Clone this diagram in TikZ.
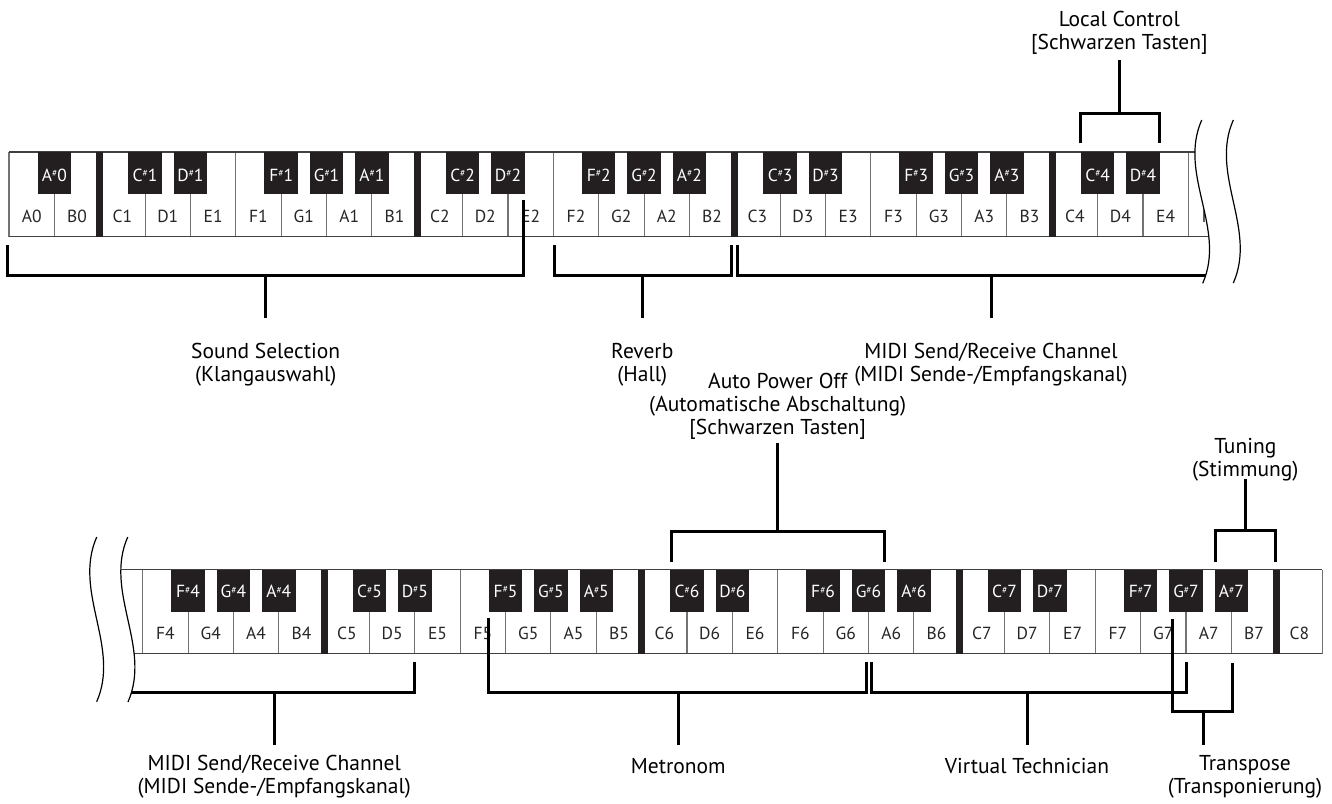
\documentclass[tikz,border=0pt]{standalone}
\usepackage{fontspec}
\setmainfont{PT Sans}
\definecolor{keyblack}{HTML}{231F20}
\newcommand\shp{\raisebox{0.55ex}{\fontsize{9.5}{9.5}\selectfont\#}}
\newcommand\keyfont{\fontsize{17.5}{18}\selectfont}
\newcommand\lblfont{\fontsize{21.5}{23}\selectfont}
\begin{document}
\begin{tikzpicture}[x=1pt,y=-1pt,
  wline/.style={draw=black!55,line width=1.1pt},
  kedge/.style={draw=black!75,line width=1.3pt},
  br/.style={draw=black,line width=3pt,line join=miter},
  wavy/.style={draw=black,line width=1.2pt},
  wlab/.style={font=\keyfont,text=black!85,inner sep=0pt},
  blab/.style={font=\keyfont,text=white,inner sep=0pt},
  lbl/.style={font=\lblfont,align=center,inner sep=0pt,text=black}]
\useasboundingbox (0,0) rectangle (1332,803);

% ---------------- top keyboard ----------------
\begin{scope}
\clip (-5,100) -- (1201.7,100) -- (1201.7,120) .. controls (1177.7,174.4) and (1226.7,228.8) .. (1202.7,283.3) -- (1202.7,300) -- (-5,300) -- cycle;
\fill[white] (9,152) rectangle (1250,236.7);
\draw[wline] (9,152) -- (9,236.7);
\foreach \i in {1,...,27} \draw[wline] ({9+\i*45.36},152) -- ({9+\i*45.36},236.7);
\draw[kedge] (9,152) -- (1250,152);
\draw[kedge] (9,236.7) -- (1250,236.7);
\foreach \b in {2,9,16,23}
  \fill[keyblack] ({9+\b*45.36-3.5},152) rectangle ({9+\b*45.36+3.5},236.7);
\foreach \n [count=\i from 0] in {A0,B0,C1,D1,E1,F1,G1,A1,B1,C2,D2,E2,F2,G2,A2,B2,C3,D3,E3,F3,G3,A3,B3,C4,D4,E4,F4}
  \node[wlab] (tw\i) at ({9+(\i+0.5)*45.36},216) {\n};
\foreach \b/\l/\o in {1/A/0,3/C/1,4/D/1,6/F/1,7/G/1,8/A/1,10/C/2,11/D/2,13/F/2,14/G/2,15/A/2,17/C/3,18/D/3,20/F/3,21/G/3,22/A/3,24/C/4,25/D/4}{
  \fill[keyblack] ({9+\b*45.36-16.75},152) rectangle ({9+\b*45.36+16.75},194.3);
  \node[blab] (tb\b) at ({9+\b*45.36},175) {\l\shp\o};
}
\end{scope}
\draw[wavy] (1201.7,120) .. controls (1177.7,174.4) and (1226.7,228.8) .. (1202.7,283.3);
\draw[wavy] (1233.3,120) .. controls (1209.3,174.3) and (1257.3,228.7) .. (1233.3,283);

% ---------------- bottom keyboard ----------------
\begin{scope}
\clip (127.7,520) -- (127.7,537) .. controls (103.7,592) and (152,647) .. (128,702) -- (128,720) -- (1340,720) -- (1340,520) -- cycle;
\fill[white] (90,569.5) rectangle (1322,653.5);
\foreach \i in {-1,0,...,26} \draw[wline] ({142.7+\i*45.36},569.5) -- ({142.7+\i*45.36},653.5);
\draw[kedge] (90,569.5) -- (1322,569.5);
\draw[kedge] (90,653.5) -- (1322,653.5);
\foreach \b in {4,11,18,25}
  \fill[keyblack] ({142.7+\b*45.36-3.5},569.5) rectangle ({142.7+\b*45.36+3.5},653.5);
\foreach \n [count=\i from 0] in {F4,G4,A4,B4,C5,D5,E5,F5,G5,A5,B5,C6,D6,E6,F6,G6,A6,B6,C7,D7,E7,F7,G7,A7,B7,C8}
  \node[wlab] (bw\i) at ({142.7+(\i+0.5)*45.36},633) {\n};
\foreach \b/\l/\o in {1/F/4,2/G/4,3/A/4,5/C/5,6/D/5,8/F/5,9/G/5,10/A/5,12/C/6,13/D/6,15/F/6,16/G/6,17/A/6,19/C/7,20/D/7,22/F/7,23/G/7,24/A/7}{
  \fill[keyblack] ({142.7+\b*45.36-16.75},569.5) rectangle ({142.7+\b*45.36+16.75},611.7);
  \node[blab] (bb\b) at ({142.7+\b*45.36},591.7) {\l\shp\o};
}
\end{scope}
\draw[wavy] (96.7,537) .. controls (72.7,592) and (120.7,647) .. (96.7,701.7);
\draw[wavy] (127.7,537) .. controls (103.7,592) and (152,647) .. (128,702);

% ---------------- labels ----------------
\node[lbl] (lc) at (1119.3,33) {Local Control\\\relax [Schwarzen Tasten]};
\node[lbl] (ss) at (265.7,364.5) {Sound Selection\\(Klangauswahl)};
\node[lbl] (rv) at (642.3,364.5) {Reverb\\(Hall)};
\node[lbl] (mt) at (991,364.5) {MIDI Send/Receive Channel\\(MIDI Sende-/Empfangskanal)};
\node[lbl] (ap) at (777.7,406) {Auto Power Off\\(Automatische Abschaltung)\\\relax [Schwarzen Tasten]};
\node[lbl] (tu) at (1245.3,460) {Tuning\\(Stimmung)};
\node[lbl] (mb) at (274.3,777) {MIDI Send/Receive Channel\\(MIDI Sende-/Empfangskanal)};
\node[lbl] (me) at (678.3,766) {Metronom};
\node[lbl] (vt) at (1027,766) {Virtual Technician};
\node[lbl] (tr) at (1245,777) {Transpose\\(Transponierung)};

% ---------------- brackets ----------------
\coordinate (ss-e) at (265.7,318);
\coordinate (rv-e) at (642.3,318);
\coordinate (mt-e) at (991,318);
\coordinate (lc-e) at (1119.3,60);
\coordinate (ap-e) at (777.7,443);
\coordinate (tu-e) at (1245.3,479);
\coordinate (mb-e) at (274.3,745);
\coordinate (me-e) at (678.3,745);
\coordinate (vt-e) at (1027,745);
\coordinate (tr-e) at (1203.3,745);

\draw[br] (7.5,245) |- (523.3,275) -- (523.3,200);
\draw[br] (265.7,275) -- (ss-e);
\draw[br] (554.3,245) |- (731,275) -- (731,245);
\draw[br] (642.3,275) -- (rv-e);
\draw[br] (737.3,245) |- (1205.5,275);
\draw[br] (991,275) -- (mt-e);
\draw[br] (1080,143.3) |- (1159,113.3) -- (1159,143.3);
\draw[br] (1119.3,113.3) -- (lc-e);
\draw[br] (671.7,561.7) |- (884,531.7) -- (884,561.7);
\draw[br] (777.7,531.7) -- (ap-e);
\draw[br] (1215.3,561.7) |- (1275.7,530.7) -- (1275.7,561.7);
\draw[br] (1245.3,530.7) -- (tu-e);
\draw[br] (131.4,692.3) -| (414.3,662.3);
\draw[br] (274.3,692.3) -- (mb-e);
\draw[br] (488.3,618.3) |- (866,692.3) -- (866,662.3);
\draw[br] (678.3,692.3) -- (me-e);
\draw[br] (871,662.3) |- (1186,692.3) -- (1186,662.3);
\draw[br] (1027,692.3) -- (vt-e);
\draw[br] (1172.3,619.3) |- (1232.7,711.7) -- (1232.7,662.7);
\draw[br] (1203.3,711.7) -- (tr-e);
\end{tikzpicture}
\end{document}
